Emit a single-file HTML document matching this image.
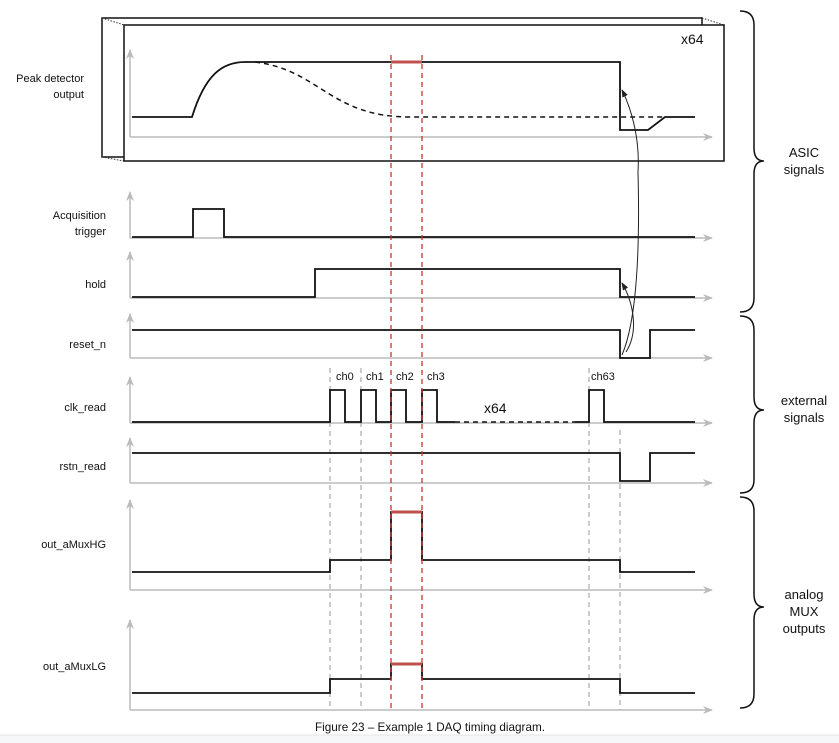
<!DOCTYPE html>
<html><head><style>
html,body{margin:0;padding:0;background:#fff;}
svg{display:block;}
text{font-family:"Liberation Sans",sans-serif;fill:#111;}
</style></head><body>
<svg width="839" height="743" viewBox="0 0 839 743" xmlns="http://www.w3.org/2000/svg">
<defs>
<marker id="ga" markerWidth="10" markerHeight="8" refX="9" refY="4" orient="auto" markerUnits="userSpaceOnUse"><path d="M0,0 L10,4 L0,8 L3,4z" fill="#bbb"/></marker>
<marker id="ka" markerWidth="8" markerHeight="6" refX="7" refY="3" orient="auto" markerUnits="userSpaceOnUse"><path d="M0,0 L8,3 L0,6z" fill="#222"/></marker>
</defs>
<rect x="0" y="735" width="839" height="8" fill="#f6f7f9"/>
<line x1="0" y1="735" x2="839" y2="735" stroke="#e4e4e4"/>
<!-- boxes -->
<rect x="102" y="18" width="600" height="139" fill="#fff" stroke="#111" stroke-width="1.5"/>
<g stroke="#333" stroke-dasharray="1.5,1.5" stroke-width="1"><line x1="102" y1="18" x2="124" y2="25"/><line x1="702" y1="18" x2="724" y2="25"/><line x1="102" y1="157" x2="124" y2="161"/></g>
<rect x="124" y="25" width="600" height="136" fill="#fff" stroke="#111" stroke-width="1.5"/>
<text x="681" y="44" font-size="14">x64</text>
<!-- axes -->
<g stroke="#bbb" stroke-width="1.5" fill="none">
<path d="M130,137 V50" marker-end="url(#ga)"/><path d="M130,137 H712" marker-end="url(#ga)"/>
<path d="M130,238 V192" marker-end="url(#ga)"/><path d="M130,238 H712" marker-end="url(#ga)"/>
<path d="M130,298 V252" marker-end="url(#ga)"/><path d="M130,298 H712" marker-end="url(#ga)"/>
<path d="M130,358 V314" marker-end="url(#ga)"/><path d="M130,358 H712" marker-end="url(#ga)"/>
<path d="M130,423 V377" marker-end="url(#ga)"/><path d="M130,423 H712" marker-end="url(#ga)"/>
<path d="M130,483 V438" marker-end="url(#ga)"/><path d="M130,483 H712" marker-end="url(#ga)"/>
<path d="M130,590 V500" marker-end="url(#ga)"/><path d="M130,590 H712" marker-end="url(#ga)"/>
<path d="M130,710 V620" marker-end="url(#ga)"/><path d="M130,710 H712" marker-end="url(#ga)"/>
</g>
<!-- gray dashed verticals -->
<g stroke="#aaa" stroke-width="1.2" stroke-dasharray="5,4">
<line x1="330" y1="368" x2="330" y2="710"/><line x1="361" y1="368" x2="361" y2="710"/>
<line x1="589" y1="368" x2="589" y2="710"/><line x1="620" y1="430" x2="620" y2="710"/>
</g>
<!-- signals -->
<g stroke="#111" stroke-width="1.8" fill="none">
<path d="M132,117 H192 C205,75 222,62 245,62 H620 V130 H648 L665,117 H695"/>
<path d="M255,62 C320,70 330,117 410,117 H665" stroke-dasharray="5,4" stroke-width="1.5"/>
<path d="M132,237 H193 V209 H224 V237 H695"/>
<path d="M132,297 H315 V269 H620 V297 H695"/>
<path d="M132,330 H620 V358 H650 V330 H695"/>
<path d="M132,422 H330 V390 H345 V422 H361 V390 H376 V422 H391 V390 H406 V422 H422 V390 H437 V422 H455"/>
<path d="M455,422 H575" stroke-dasharray="5,4" stroke-width="1.5"/>
<path d="M575,422 H589 V390 H604 V422 H695"/>
<path d="M132,453 H620 V481 H650 V453 H695"/>
<path d="M132,572 H330 V560 H391 V512 H422 V560 H620 V572 H695"/>
<path d="M132,693 H330 V679 H391 V664 H422 V679 H620 V693 H695"/>
</g>
<!-- curved arrows -->
<g stroke="#222" stroke-width="1" fill="none">
<path d="M638,172 C640,140 632,110 622,90" marker-end="url(#ka)"/>
<path d="M638,172 C640,250 637,320 622,355"/>
<path d="M626,352 C640,330 632,300 622,283" marker-end="url(#ka)"/>
</g>
<!-- red -->
<g stroke="#c0392b" stroke-width="1.3" stroke-dasharray="5,4">
<line x1="391" y1="55" x2="391" y2="710"/><line x1="422" y1="55" x2="422" y2="710"/>
</g>
<g stroke="#c0504d" stroke-width="3">
<line x1="391" y1="62" x2="422" y2="62"/><line x1="391" y1="512" x2="422" y2="512"/><line x1="391" y1="664" x2="422" y2="664"/>
</g>
<!-- labels -->
<g font-size="11" text-anchor="end">
<text x="84" y="82">Peak detector</text><text x="84" y="98">output</text>
<text x="106" y="219">Acquisition</text><text x="106" y="235">trigger</text>
<text x="106" y="288">hold</text>
<text x="106" y="348">reset_n</text>
<text x="106" y="411">clk_read</text>
<text x="106" y="470">rstn_read</text>
<text x="106" y="548">out_aMuxHG</text>
<text x="106" y="670">out_aMuxLG</text>
</g>
<g font-size="11">
<text x="336" y="380">ch0</text><text x="366" y="380">ch1</text><text x="396" y="380">ch2</text><text x="427" y="380">ch3</text><text x="591" y="380">ch63</text>
</g>
<text x="484" y="413" font-size="14">x64</text>
<!-- braces -->
<g stroke="#111" stroke-width="1.5" fill="none">
<path d="M740,11 Q754,11 754,25 V148 Q754,161 764,161 Q754,161 754,174 V298 Q754,312 740,312"/>
<path d="M740,316 Q754,316 754,330 V397 Q754,410 764,410 Q754,410 754,423 V480 Q754,493 740,493"/>
<path d="M740,497 Q754,497 754,511 V594 Q754,607 764,607 Q754,607 754,620 V694 Q754,708 740,708"/>
</g>
<g font-size="13" text-anchor="middle">
<text x="804" y="157">ASIC</text><text x="804" y="174">signals</text>
<text x="804" y="405">external</text><text x="804" y="422">signals</text>
<text x="804" y="599">analog</text><text x="804" y="616">MUX</text><text x="804" y="633">outputs</text>
</g>
<text x="430" y="731" font-size="12" text-anchor="middle" textLength="230" lengthAdjust="spacingAndGlyphs">Figure 23 – Example 1 DAQ timing diagram.</text>
</svg>
</body></html>
